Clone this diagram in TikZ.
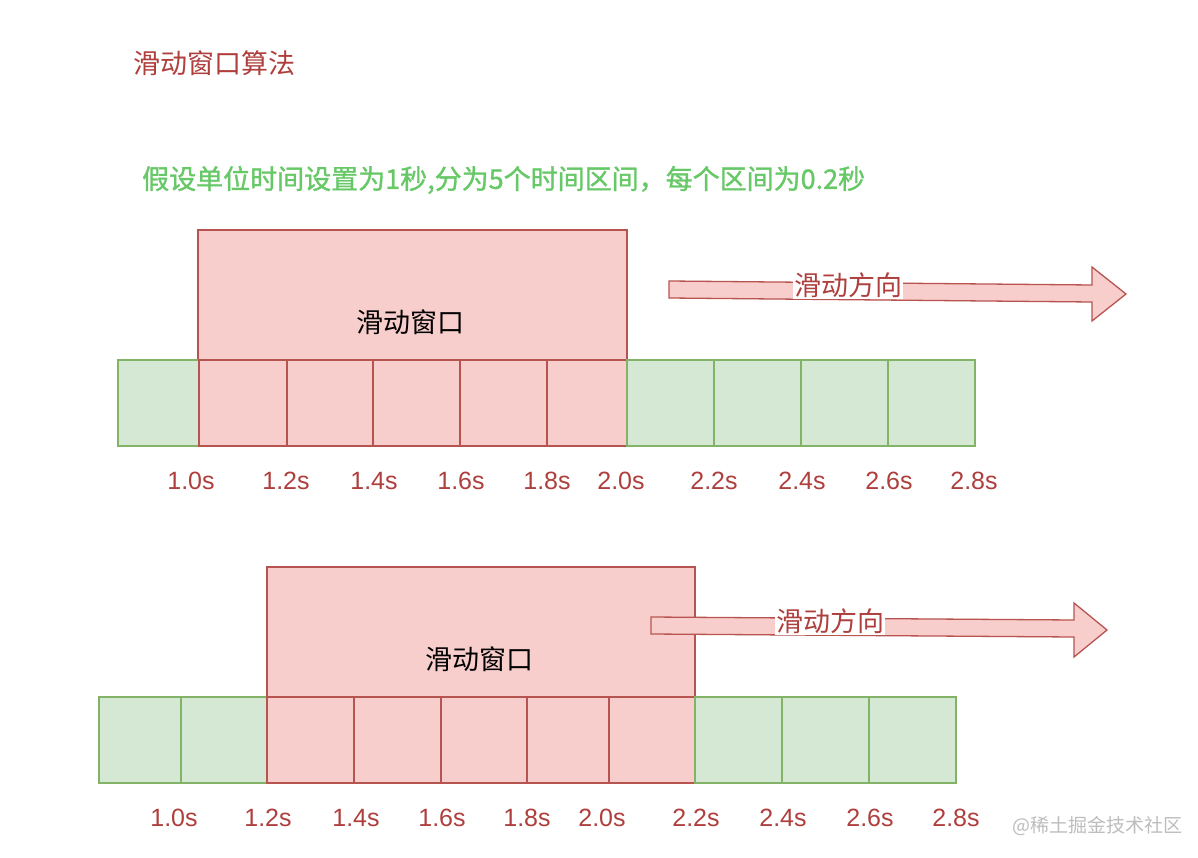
\documentclass[tikz,border=0pt]{standalone}
\usepackage{fontspec}
\setmainfont{Noto Sans CJK SC}
\newfontfamily\cjk{Noto Sans CJK SC}
\newfontfamily\cjkmed[FakeBold=1.2]{Noto Sans CJK SC}
\newfontfamily\lat{Liberation Sans}
\definecolor{redfill}{HTML}{F8CECC}
\definecolor{redline}{HTML}{B85450}
\definecolor{greenfill}{HTML}{D5E8D4}
\definecolor{greenline}{HTML}{82B366}
\definecolor{labred}{HTML}{AE3F3D}
\definecolor{txtgreen}{HTML}{66C866}
\definecolor{wmgray}{HTML}{BDBDBD}
\tikzset{
  redcell/.style={fill=redfill,draw=redline,line width=1.3pt},
  greencell/.style={fill=greenfill,draw=greenline,line width=1.3pt},
  winbox/.style={fill=redfill,draw=redline,line width=1.3pt},
  bigarrow/.style={fill=redfill,draw=redline,line width=1.3pt,line join=miter},
  tick/.style={text=labred,font=\lat\fontsize{25}{28}\selectfont,inner sep=0pt},
  wintext/.style={text=black,font=\cjk\fontsize{27}{31}\selectfont,inner sep=0pt},
  dirtext/.style={text=labred,fill=white,font=\cjk\fontsize{27}{31}\selectfont,inner sep=1pt},
}
\begin{document}
\begin{tikzpicture}[x=1pt,y=-1pt]
\useasboundingbox[fill=white] (0,0) rectangle (1198,858);

% title and description
\node[anchor=west,text=labred,font=\cjk\fontsize{27}{31}\selectfont,inner sep=0pt] (title) at (133,63) {滑动窗口算法};
\node[anchor=west,text=txtgreen,font=\cjkmed\fontsize{27}{31}\selectfont,inner sep=0pt] (desc) at (142,180) {假设单位时间设置为1秒,分为5个时间区间，每个区间为0.2秒};

% ===== top =====
\path[winbox] (198,230) rectangle (627,360);
\node[wintext] (win1) at (410,322) {滑动窗口};
\path[greencell] (118,360) rectangle (199,446);
\path[redcell] (199,360) rectangle (287,446);
\path[redcell] (287,360) rectangle (373,446);
\path[redcell] (373,360) rectangle (460,446);
\path[redcell] (460,360) rectangle (547,446);
\path[redcell] (547,360) rectangle (627,446);
\path[greencell] (627,360) rectangle (714,446);
\path[greencell] (714,360) rectangle (801,446);
\path[greencell] (801,360) rectangle (888,446);
\path[greencell] (888,360) rectangle (975,446);
\foreach \x/\t [count=\i] in {191/1.0s,286/1.2s,374/1.4s,461/1.6s,547/1.8s,621/2.0s,714/2.2s,802/2.4s,889/2.6s,974/2.8s}
  \node[tick] (ta\i) at (\x,481) {\t};
\path[bigarrow] (669,281) -- (1092,285) -- (1092,267) -- (1126,294) -- (1092,321) -- (1092,302) -- (669,298) -- cycle;
\node[dirtext] (dir1) at (848,285) {滑动方向};

% ===== bottom =====
\path[winbox] (267,567) rectangle (695,697);
\node[wintext] (win2) at (479,659) {滑动窗口};
\path[greencell] (99,697) rectangle (181,783);
\path[greencell] (181,697) rectangle (267,783);
\path[redcell] (267,697) rectangle (354,783);
\path[redcell] (354,697) rectangle (441,783);
\path[redcell] (441,697) rectangle (527,783);
\path[redcell] (527,697) rectangle (609,783);
\path[redcell] (609,697) rectangle (695,783);
\path[greencell] (695,697) rectangle (782,783);
\path[greencell] (782,697) rectangle (869,783);
\path[greencell] (869,697) rectangle (956,783);
\foreach \x/\t [count=\i] in {174/1.0s,268/1.2s,356/1.4s,442/1.6s,527/1.8s,602/2.0s,696/2.2s,783/2.4s,870/2.6s,956/2.8s}
  \node[tick] (tb\i) at (\x,818) {\t};
\path[bigarrow] (651,617) -- (1074,620) -- (1074,603) -- (1107,630) -- (1074,657) -- (1074,637) -- (651,634) -- cycle;
\node[dirtext] (dir2) at (830,621) {滑动方向};

% watermark
\node[text=wmgray,font=\cjk\fontsize{19}{22}\selectfont,inner sep=0pt] (wm) at (1097,826) {@稀土掘金技术社区};
\end{tikzpicture}
\end{document}
